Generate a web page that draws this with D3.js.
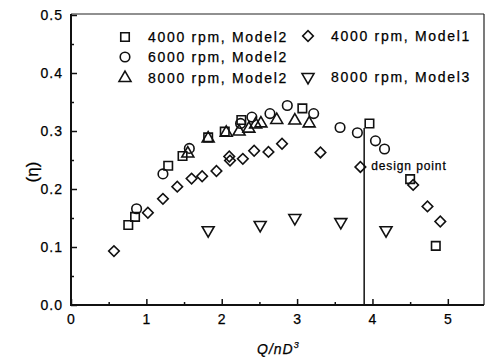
<!DOCTYPE html>
<html><head><meta charset="utf-8">
<script src="https://cdn.jsdelivr.net/npm/d3@7"></script>
<style>
html,body{margin:0;padding:0;background:#fff;}
text{font-family:"Liberation Sans",Arial,sans-serif;fill:#000;stroke:#000;stroke-width:0.25px;}
</style></head>
<body><svg id="c" width="488" height="357"></svg>
<script>
const xTicks = [0,1,2,3,4,5];
const yTicks = [0.0,0.1,0.2,0.3,0.4,0.5];
const yTickLabels = ["0.0","0.1","0.2","0.3","0.4","0.5"];
const seriesNames = ["4000 rpm, Model2","6000 rpm, Model2","8000 rpm, Model2","4000 rpm, Model1","8000 rpm, Model3"];
const sq4000M2 = [[0.76,0.138],[0.85,0.152],[1.29,0.240],[1.48,0.257],[1.82,0.289],[2.04,0.299],[2.26,0.319],[3.07,0.339],[3.96,0.313],[4.50,0.217],[4.84,0.102]];
const ci6000M2 = [[0.87,0.166],[1.22,0.226],[1.57,0.270],[2.25,0.313],[2.40,0.324],[2.64,0.330],[2.87,0.344],[3.22,0.330],[3.57,0.306],[3.80,0.297],[4.04,0.283],[4.16,0.269]];
const tr8000M2 = [[1.55,0.261],[1.82,0.287],[2.06,0.297],[2.23,0.299],[2.36,0.304],[2.45,0.311],[2.52,0.313],[2.73,0.319],[2.97,0.318],[3.16,0.313]];
const di4000M1 = [[0.57,0.093],[1.02,0.159],[1.22,0.183],[1.41,0.204],[1.60,0.218],[1.74,0.222],[1.93,0.231],[2.10,0.256],[2.11,0.249],[2.28,0.252],[2.43,0.266],[2.62,0.264],[2.80,0.278],[3.31,0.263],[3.84,0.238],[4.54,0.207],[4.73,0.170],[4.90,0.144]];
const td8000M3 = [[1.82,0.129],[2.51,0.138],[2.97,0.150],[3.58,0.143],[4.18,0.129]];
const designX = 3.89, designTop = 0.305;
const designLabel = "design point";

const svg = d3.select("#c");
const L=71, R=484, T=15, B=305;
const x = d3.scaleLinear().domain([0,5.48]).range([L,R]);
const y = d3.scaleLinear().domain([0,0.5]).range([B,T]);

// frame
svg.append("line").attr("x1",L).attr("x2",R).attr("y1",T-1).attr("y2",T-1).attr("stroke","#222").attr("stroke-width",1.2);
svg.append("line").attr("x1",R).attr("x2",R).attr("y1",T-1).attr("y2",B).attr("stroke","#222").attr("stroke-width",1.2);

// y axis
const yAx = svg.append("g").attr("transform",`translate(${L},0)`)
  .call(d3.axisRight(y).tickValues(yTicks).tickSize(6).tickFormat(""));
const yMinor = svg.append("g").attr("transform",`translate(${L},0)`)
  .call(d3.axisRight(y).tickValues(d3.range(0.05,0.5,0.1)).tickSize(3).tickFormat(""));
// x axis
const xAx = svg.append("g").attr("transform",`translate(0,${B})`)
  .call(d3.axisTop(x).tickValues(xTicks).tickSize(6).tickFormat(""));
const xMinor = svg.append("g").attr("transform",`translate(0,${B})`)
  .call(d3.axisTop(x).tickValues(d3.range(0.5,5.5,1)).tickSize(3).tickFormat(""));
[yAx,yMinor,xAx,xMinor].forEach(g=>{g.select(".domain").remove(); g.selectAll("line").attr("stroke","#111").attr("stroke-width",1.5);});
svg.append("line").attr("x1",L).attr("x2",L).attr("y1",T-1).attr("y2",B+1).attr("stroke","#111").attr("stroke-width",2);
svg.append("line").attr("x1",L-1).attr("x2",R).attr("y1",B).attr("y2",B).attr("stroke","#111").attr("stroke-width",2);

// tick labels
svg.selectAll(".yl").data(yTicks).join("text").attr("x",L-8).attr("y",d=>y(d)+5)
  .attr("text-anchor","end").attr("font-size",14).attr("letter-spacing","1px").text((d,i)=>yTickLabels[i]);
svg.selectAll(".xl").data(xTicks).join("text").attr("x",d=>x(d)).attr("y",B+19)
  .attr("text-anchor","middle").attr("font-size",14).text(d=>d);

// axis titles
const xt = svg.append("text").attr("x",257).attr("y",354).attr("font-size",14).attr("font-style","italic").attr("letter-spacing","1px");
xt.append("tspan").text("Q/nD");
xt.append("tspan").attr("dy",-6).attr("font-size",9).text("3");
svg.append("text").attr("transform","translate(38,172) rotate(-90)").attr("text-anchor","middle")
  .attr("font-size",17).text("(η)");

// design line
svg.append("line").attr("x1",x(designX)).attr("x2",x(designX)).attr("y1",y(designTop)).attr("y2",B)
  .attr("stroke","#111").attr("stroke-width",1.5);
svg.append("text").attr("x",x(designX)+7).attr("y",y(0.24)+4).attr("font-size",12).attr("letter-spacing","0.9px").text(designLabel);

// markers
const sym = {
  square: d3.symbol().type(d3.symbolSquare).size(72),
  circle: d3.symbol().type(d3.symbolCircle).size(72),
  triangle: d3.symbol().type(d3.symbolTriangle).size(62),
  diamond: d3.symbol().type(d3.symbolSquare).size(56),
  tdown: d3.symbol().type(d3.symbolTriangle).size(62)
};
const rot = {square:0,circle:0,triangle:0,diamond:45,tdown:180};
const series = [
  {data:sq4000M2,s:"square"},{data:ci6000M2,s:"circle"},{data:tr8000M2,s:"triangle"},
  {data:di4000M1,s:"diamond"},{data:td8000M3,s:"tdown"}];
series.forEach(se=>{
  svg.append("g").selectAll("path").data(se.data).join("path")
    .attr("d",sym[se.s]).attr("transform",d=>`translate(${x(d[0])},${y(d[1])}) rotate(${rot[se.s]})`)
    .attr("fill","none").attr("stroke","#111").attr("stroke-width",1.6);
});

// legend
const leg = [
  {s:"square",x:125,y:37,t:seriesNames[0]},
  {s:"circle",x:125,y:57,t:seriesNames[1]},
  {s:"triangle",x:125,y:78,t:seriesNames[2]},
  {s:"diamond",x:308,y:36,t:seriesNames[3]},
  {s:"tdown",x:308,y:77,t:seriesNames[4]}];
leg.forEach(l=>{
  svg.append("path").attr("d",sym[l.s]).attr("transform",`translate(${l.x},${l.y}) rotate(${rot[l.s]})`)
    .attr("fill","none").attr("stroke","#111").attr("stroke-width",1.6);
  svg.append("text").attr("x",l.x+23).attr("y",l.y+5).attr("font-size",14).attr("letter-spacing","1.7px").text(l.t);
});
</script></body></html>
